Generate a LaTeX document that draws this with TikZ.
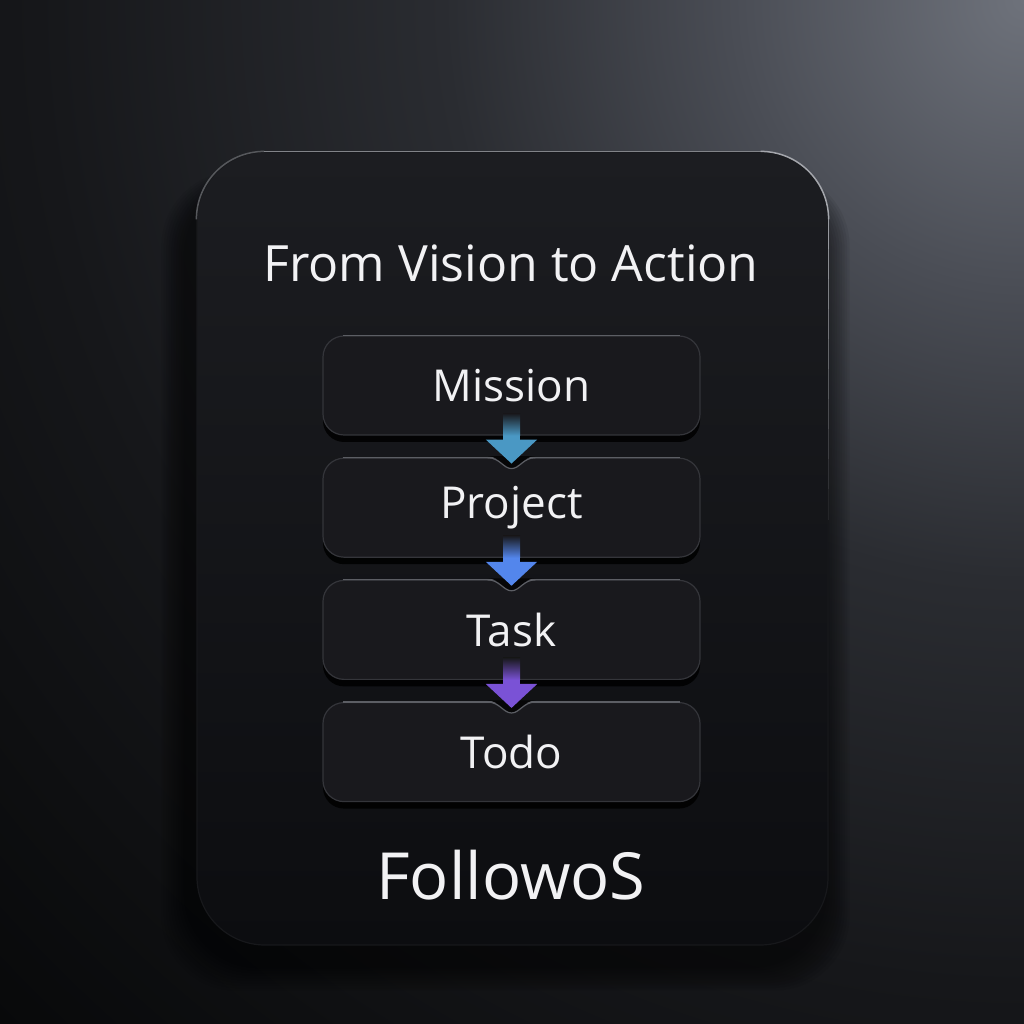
\documentclass[tikz,border=0pt]{standalone}
\usepackage{fontspec}
\setmainfont{Open Sans}
\usetikzlibrary{arrows.meta,positioning,calc,shadows,backgrounds}

\definecolor{bgA}{HTML}{6E727B}
\definecolor{bgB}{HTML}{4A4D55}
\definecolor{bgC}{HTML}{2A2C31}
\definecolor{bgD}{HTML}{16171A}
\definecolor{bgE}{HTML}{08090A}
\definecolor{cardtop}{HTML}{1C1D21}
\definecolor{cardbot}{HTML}{0C0D10}
\definecolor{cardline}{HTML}{17181B}
\definecolor{cardglint}{HTML}{A4A6AC}
\definecolor{boxfill}{HTML}{19191D}
\definecolor{boxline}{HTML}{34353A}
\definecolor{boxglint}{HTML}{5C5E64}
\definecolor{gapfill}{HTML}{060607}
\definecolor{textcol}{HTML}{F2F2F4}
\definecolor{flowA}{HTML}{4A98C4}
\definecolor{flowB}{HTML}{5386EC}
\definecolor{flowC}{HTML}{7A52D6}

\pgfdeclareradialshading{backglow}{\pgfpoint{0bp}{0bp}}{color(0bp)=(bgA); color(5bp)=(bgB); color(10bp)=(bgC); color(17bp)=(bgD); color(25bp)=(bgE); color(50bp)=(bgE)}

\pgfdeclarelayer{backdrop}
\pgfsetlayers{backdrop,background,main}

\begin{document}
\begin{tikzpicture}[
    x=1pt, y=1pt,
    card/.style={rectangle, rounded corners=68pt, minimum width=631pt, minimum height=793pt, top color=cardtop, bottom color=cardbot, draw=cardline, line width=1.2pt},
    stepbox/.style={rectangle, rounded corners=21pt, minimum width=377pt, minimum height=99pt, fill=boxfill, draw=boxline, line width=1.2pt, text=textcol, font=\fontsize{44}{50}\selectfont, drop shadow={shadow xshift=0pt, shadow yshift=-7pt, opacity=0.85, fill=black}},
    notch/.style={draw=boxglint, line width=1.2pt},
    flow/.style={line width=17pt, -{Triangle[width=50pt 0 0, length=24pt 0 0]}}
]
    \useasboundingbox (0,0) rectangle (1024,1024);

    % Backdrop
    \begin{pgfonlayer}{backdrop}
        \clip (0,0) rectangle (1024,1024);
        \fill[bgE] (0,0) rectangle (1024,1024);
        \shade[shading=backglow] (1024,1024) circle (1450);
    \end{pgfonlayer}

    % Card
    \node[card] (card) at (512.5,475.5) {};
    \draw[cardglint!45!cardline, line width=1.5pt] ($(card.north west)+(0,-68)$) arc[start angle=180, end angle=90, radius=68];
    \draw[cardglint!75!cardline, line width=1.5pt] ($(card.north west)+(68,0)$) -- ($(card.north east)+(-68,0)$);
    \draw[cardglint, line width=1.5pt] ($(card.north east)+(-68,0)$) arc[start angle=90, end angle=0, radius=68];
    \foreach \k in {0,...,9} {
        \draw[cardglint!\fpeval{90-9*\k}!cardline, line width=1.5pt] ($(card.north east)+(0,-68-30*\k)$) -- ++(0,-30.5);
    }
    \begin{pgfonlayer}{background}
        \foreach \s in {1,...,10} {
            \fill[black, opacity=0.06, rounded corners=75pt] ($(card.south west)+(-10-2.5*\s,-20-2.5*\s)$) rectangle ($(card.north east)+(-4+2.5*\s,-30+\s)$);
        }
    \end{pgfonlayer}

    % Title
    \node[text=textcol, font=\fontsize{50}{56}\selectfont] (title) at (511,761) {From Vision to Action};

    % Steps
    \node[stepbox] (mission) at (511.5,638.5) {Mission};
    \node[stepbox, below=22pt of mission] (project) {Project};
    \node[stepbox, below=22pt of project] (task) {Task};
    \node[stepbox, below=22pt of task] (todo) {Todo};

    \foreach \n in {mission,project,task,todo} {
        \draw[boxglint, line width=1.2pt] ($(\n.north west)+(21,0)$) -- ($(\n.north east)+(-21,0)$);
    }
    \foreach \n in {project,task,todo} {
        \begin{scope}[shift={(\n.north)}]
            \fill[gapfill] (-24,1.5) .. controls (-12,1.5) and (-8,-11) .. (0,-11) .. controls (8,-11) and (12,1.5) .. (24,1.5) -- cycle;
            \draw[notch] (-24,0) .. controls (-12,0) and (-8,-11) .. (0,-11) .. controls (8,-11) and (12,0) .. (24,0);
        \end{scope}
    }

    % Flow
    \shade[top color=boxfill, bottom color=flowA] ($(mission.south)+(-8.5,22)$) rectangle ($(mission.south)+(8.5,0)$);
    \draw[flow, draw=flowA, fill=flowA] (mission.south) -- ($(project.north)+(0,-6)$);
    \shade[top color=boxfill, bottom color=flowB] ($(project.south)+(-8.5,22)$) rectangle ($(project.south)+(8.5,0)$);
    \draw[flow, draw=flowB, fill=flowB] (project.south) -- ($(task.north)+(0,-6)$);
    \shade[top color=boxfill, bottom color=flowC] ($(task.south)+(-8.5,22)$) rectangle ($(task.south)+(8.5,0)$);
    \draw[flow, draw=flowC, fill=flowC] (task.south) -- ($(todo.north)+(0,-6)$);

    % Brand
    \node[text=textcol, font=\fontsize{65}{72}\selectfont] (brand) at (511,149) {FollowoS};
\end{tikzpicture}
\end{document}
